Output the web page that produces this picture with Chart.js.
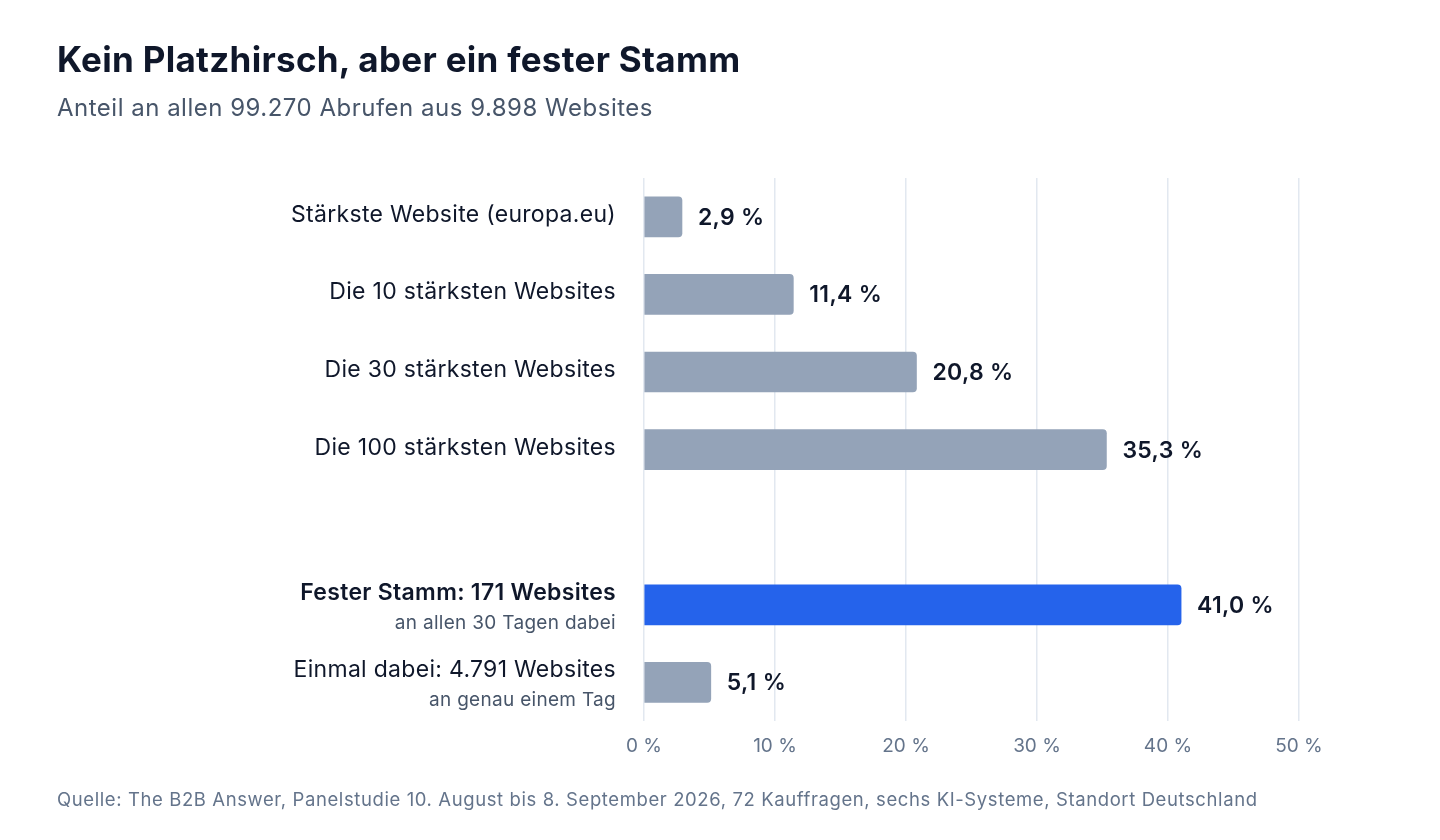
<!DOCTYPE html>
<html><head><meta charset="utf-8">
<script src="https://cdn.jsdelivr.net/npm/chart.js@4"></script>
<style>
body{margin:0;width:1440px;height:840px;background:#fff;font-family:Inter,sans-serif;position:relative;overflow:hidden}
#t{position:absolute;left:57px;top:38px;font-size:35px;font-weight:700;color:#0f172a;letter-spacing:0.3px}
#s{position:absolute;left:57px;top:93px;font-size:24px;color:#475569;letter-spacing:0.5px}
#f{position:absolute;left:57px;top:788px;font-size:18.5px;color:#64748b;letter-spacing:0.6px}
#c{position:absolute;left:0;top:0}
</style></head><body>
<canvas id="c" width="1440" height="840"></canvas>
<div id="t">Kein Platzhirsch, aber ein fester Stamm</div>
<div id="s">Anteil an allen 99.270 Abrufen aus 9.898 Websites</div>
<div id="f">Quelle: The B2B Answer, Panelstudie 10. August bis 8. September 2026, 72 Kauffragen, sechs KI-Systeme, Standort Deutschland</div>
<script>
"use strict";

// Data
var categories = ['Stärkste Website (europa.eu)', 'Die 10 stärksten Websites', 'Die 30 stärksten Websites', 'Die 100 stärksten Websites', '', 'Fester Stamm: 171 Websites', 'Einmal dabei: 4.791 Websites'];
var sublabels = ['', '', '', '', '', 'an allen 30 Tagen dabei', 'an genau einem Tag'];
var values = [2.9, 11.4, 20.8, 35.3, null, 41.0, 5.1];
var highlight = [false, false, false, false, false, true, false];
var xTicks = [0, 10, 20, 30, 40, 50];

var labelPlugin = {
    id: 'labels',
    afterDatasetsDraw: function (chart) {
        var ctx = chart.ctx, y = chart.scales.y, meta = chart.getDatasetMeta(0);
        ctx.save();
        ctx.letterSpacing = '0.3px';
        ctx.textAlign = 'right';
        ctx.textBaseline = 'middle';
        categories.forEach(function (cat, i) {
            if (!cat) return;
            var py = y.getPixelForValue(i);
            var hasSub = sublabels[i] !== '';
            ctx.fillStyle = '#0f172a';
            ctx.font = (highlight[i] ? '600 ' : '400 ') + '23px Inter';
            ctx.fillText(cat, chart.chartArea.left - 28, hasSub ? py - 12 : py - 2);
            if (hasSub) {
                ctx.fillStyle = '#475569';
                ctx.font = '400 19px Inter';
                ctx.fillText(sublabels[i], chart.chartArea.left - 28, py + 18);
            }
        });
        ctx.textAlign = 'left';
        ctx.fillStyle = '#0f172a';
        ctx.font = '600 23px Inter';
        meta.data.forEach(function (bar, i) {
            if (values[i] == null) return;
            ctx.fillText(values[i].toFixed(1).replace('.', ',') + ' %', bar.x + 16, bar.y + 1);
        });
        ctx.restore();
    }
};

new Chart(document.getElementById('c'), {
    type: 'bar',
    data: {
        labels: categories,
        datasets: [{
            data: values,
            backgroundColor: highlight.map(function (h) { return h ? '#2563eb' : '#94a3b8'; }),
            borderRadius: 4,
            borderSkipped: 'start',
            barThickness: 40
        }]
    },
    options: {
        indexAxis: 'y',
        responsive: false,
        animation: false,
        devicePixelRatio: 1,
        layout: { padding: { left: 636, right: 141, top: 178, bottom: 68 } },
        plugins: { legend: { display: false }, tooltip: { enabled: false } },
        scales: {
            x: {
                min: 0, max: 50,
                afterBuildTicks: function (s) { s.ticks = xTicks.map(function (v) { return { value: v }; }); },
                grid: { color: '#e2e8f0', lineWidth: 1.5, drawTicks: false },
                border: { display: false },
                ticks: { padding: 14, color: '#64748b', font: { family: 'Inter', size: 19 }, callback: function (v) { return v + ' %'; } }
            },
            y: {
                grid: { display: false },
                border: { display: false },
                ticks: { display: false }
            }
        }
    },
    plugins: [labelPlugin]
});
</script>
</body></html>
